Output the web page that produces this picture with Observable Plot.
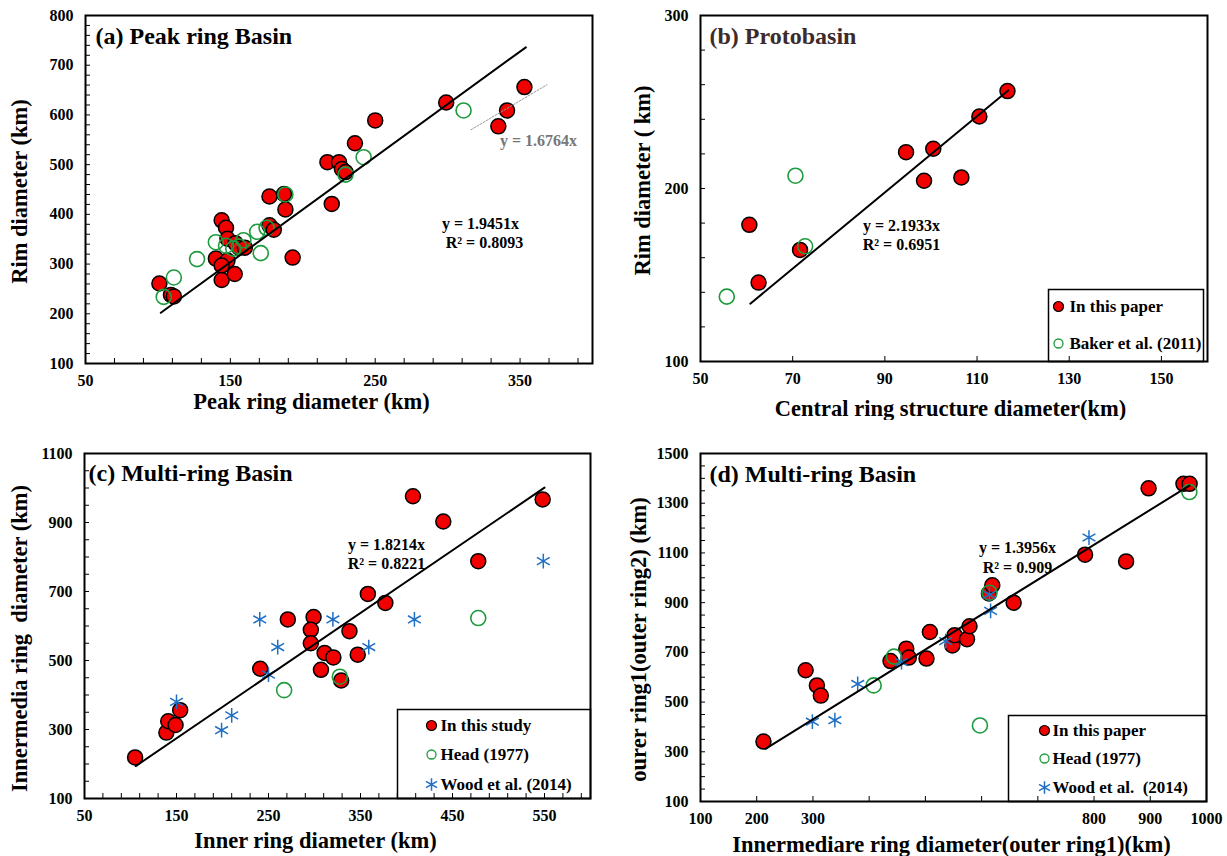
<!DOCTYPE html>
<html><head><meta charset="utf-8">
<script src="https://cdn.jsdelivr.net/npm/d3@7"></script>
<script src="https://cdn.jsdelivr.net/npm/@observablehq/plot@0.6"></script>
<style>
body{margin:0;background:#fff;}
#grid{display:grid;grid-template-columns:600px 627px;grid-template-rows:420px 436px;width:1227px;height:856px;}
#grid svg{display:block;}
</style></head><body><div id="grid"></div>
<script>
// ---------- (a) Peak ring basin ----------
const peakThisPaper = [[101,261],[109,238],[111,235],[144,388],[147,373],[148,351],[153.5,342],[156,333],[160,333],[140,311],[148,307],[144,297],[144,268],[153,280],[177,436],[187,441],[188,410],[177,378],[180,369],[193,313],[217,505],[225,505],[227,491],[229.5,485],[220,421],[236,543],[250,589],[299,625],[335,577],[341,609],[353,656]];
const peakBaker = [[104,234],[111,273],[127,310],[140,344],[147,337],[152,331],[156,335],[159,348],[168.5,365],[171,322],[175,373],[188,440],[229.5,480],[242,515],[311,609]];
const peakTrend = [[102,202],[354,736]];
const peakTrend2 = [[316,570],[368.5,660.5]];
const peakXLabels = [50,150,250,350];
const peakYLabels = [100,200,300,400,500,600,700,800];

// ---------- (b) Protobasin ----------
const protoThisPaper = [[60.6,179],[62.6,145.6],[71.6,164.5],[94.6,221],[100.5,223],[98.5,204.5],[106.6,206.4],[110.5,241.6],[116.6,256.3]];
const protoBaker = [[55.7,137.5],[70.6,207.4],[72.7,166.6]];
const protoTrend = [[60.8,133.4],[116.75,256.7]];
const protoXLabels = [50,70,90,110,130,150];
const protoYLabels = [100,200,300];

// ---------- (c) Multi-ring basin, inner vs intermediate ----------
const innerThisStudy = [[105,219],[139,291],[141,324],[149,313],[154,356],[241,476],[271,619],[299,626],[296,589],[296,550],[311,522],[320.5,509],[307,473],[329,442],[338,585],[347,517],[358,693],[377,667],[407,976],[440,903],[478,788],[548,967]];
const innerHead = [[267,414],[327.5,453],[478,623]];
const innerWood = [[150,380],[199,298],[210,341],[240.5,619],[250,459],[260,539],[320,619],[359,539],[408.6,619],[548.7,788]];
const innerTrend = [[105.7,194],[550,1001]];
const innerXLabels = [50,150,250,350,450,550];
const innerYLabels = [100,300,500,700,900,1100];

// ---------- (d) Multi-ring basin, intermediate vs outer ----------
const outerThisPaper = [[212,341],[287,628],[307,567],[314,526],[438,665],[466,715],[470.5,679],[502,675],[508,782],[548,728],[552,769],[574,753],[578.5,805],[613,937],[619,970],[657,900],[784,1093],[857,1066],[897,1360],[959,1378],[970,1378]];
const outerHead = [[408,567],[444,683],[614,940],[597,406],[969.5,1345]];
const outerWood = [[299,421],[339,427],[379.6,573],[457.5,661],[536,745],[614,932],[616,867],[791,1162]];
const outerTrend = [[215.5,312],[969.5,1371]];
const outerXLabels = [100,200,300,800,900,1000];
const outerYLabels = [100,300,500,700,900,1100,1300,1500];

const FONT = "'Liberation Serif','Times New Roman',serif";
const RED = "#f20000", GREEN = "#1e9b3e", BLUE = "#1f6fc5";

function panel(o) {
  const pw = o.width - o.ml - o.mr, ph = o.height - o.mt - o.mb;
  const TL = {frameAnchor: "top-left"};
  const txt = (s, dx, dy, extra = {}) => Plot.text([s], {...TL, text: d => d, dx, dy, fontSize: 16, fontWeight: "bold", textAnchor: "middle", lineAnchor: "middle", ...extra});
  const marks = [
    Plot.tickX(o.xTicks, {x: d => d, insetTop: ph - 5, stroke: "black", strokeWidth: 1}),
    Plot.tickY(o.yTicks, {y: d => d, insetRight: pw - 5, stroke: "black", strokeWidth: 1}),
    Plot.axisX({ticks: o.xLabels, tickSize: 0, tickPadding: 11, tickFormat: d => String(d), fontSize: 16, fontWeight: "bold", label: null}),
    Plot.axisY({ticks: o.yLabels, tickSize: 0, tickPadding: 12, tickFormat: d => String(d), fontSize: 16, fontWeight: "bold", label: null}),
    Plot.frame({stroke: "black", strokeWidth: 2})
  ];
  if (o.legend) {
    const L = o.legend;
    marks.push(Plot.frame({insetLeft: L.left, insetTop: L.top, insetRight: L.right, insetBottom: 0, stroke: "black", strokeWidth: 1.5}));
    L.items.forEach((it, i) => {
      const dy = L.dy[i];
      if (it.kind === "red") marks.push(Plot.dot([0], {...TL, dx: L.dotX, dy, r: 5, fill: RED, stroke: "black", strokeWidth: 1.2}));
      if (it.kind === "green") marks.push(Plot.dot([0], {...TL, dx: L.dotX, dy, r: 4.5, fill: "none", stroke: GREEN, strokeWidth: 1.3}));
      if (it.kind === "blue") marks.push(Plot.dot([0], {...TL, dx: L.dotX, dy, r: 6, symbol: "asterisk", stroke: BLUE, strokeWidth: 1.5}));
      marks.push(txt(it.label, L.textX, dy, {textAnchor: "start", fontSize: 17}));
    });
  }
  marks.push(Plot.dot(o.red, {x: d => d[0], y: d => d[1], r: 7.5, fill: RED, stroke: "black", strokeWidth: 1.5}));
  if (o.green) marks.push(Plot.dot(o.green, {x: d => d[0], y: d => d[1], r: 7.5, fill: "none", stroke: GREEN, strokeWidth: 1.6}));
  if (o.blue) marks.push(Plot.dot(o.blue, {x: d => d[0], y: d => d[1], r: 7, symbol: "asterisk", stroke: BLUE, strokeWidth: 1.5}));
  marks.push(Plot.line(o.trend, {x: d => d[0], y: d => d[1], stroke: "black", strokeWidth: 2}));
  if (o.trend2) marks.push(Plot.line(o.trend2, {x: d => d[0], y: d => d[1], stroke: "#999", strokeWidth: 1, strokeDasharray: "2,1.5"}));
  marks.push(txt(o.title, o.titlePos[0], o.titlePos[1], {textAnchor: "start", fontSize: 24, fill: o.titleColor || "black"}));
  o.eq.forEach(e => marks.push(txt(e[0], e[1], e[2], {fill: e[3] || "black"})));
  marks.push(txt(o.xTitle, o.xTitlePos[0], o.xTitlePos[1], {fontSize: 22.5}));
  marks.push(txt(o.yTitle, o.yTitlePos[0], o.yTitlePos[1], {fontSize: 22.5, rotate: -90}));
  return Plot.plot({
    width: o.width, height: o.height,
    marginLeft: o.ml, marginRight: o.mr, marginTop: o.mt, marginBottom: o.mb,
    x: {domain: o.xDomain, nice: false},
    y: {domain: o.yDomain, nice: false},
    style: {fontFamily: FONT, fontWeight: "bold", fontSize: "16px", background: "white", color: "black", overflow: "visible"},
    marks
  });
}

const grid = document.getElementById("grid");

grid.appendChild(panel({
  width: 600, height: 420, ml: 85, mr: 8, mt: 15, mb: 57,
  xDomain: [50, 400], yDomain: [100, 800],
  xTicks: d3.range(50, 400, 20), yTicks: d3.range(100, 801, 20),
  xLabels: peakXLabels, yLabels: peakYLabels,
  red: peakThisPaper, green: peakBaker, trend: peakTrend, trend2: peakTrend2,
  title: "(a) Peak ring Basin", titlePos: [10, 21],
  eq: [["y = 1.9451x", 395, 208], ["R² = 0.8093", 399, 227], ["y = 1.6764x", 453, 125, "#777"]],
  xTitle: "Peak ring diameter (km)", xTitlePos: [226, 386],
  yTitle: "Rim diameter (km)", yTitlePos: [-66, 176]
}));

grid.appendChild(panel({
  width: 627, height: 420, ml: 100, mr: 20, mt: 15, mb: 59,
  xDomain: [50, 160], yDomain: [100, 300],
  xTicks: d3.range(50, 161, 20), yTicks: d3.range(100, 301, 20),
  xLabels: protoXLabels, yLabels: protoYLabels,
  red: protoThisPaper, green: protoBaker, trend: protoTrend,
  title: "(b) Protobasin", titlePos: [9, 21], titleColor: "#3d2b2b",
  eq: [["y = 2.1933x", 201, 210], ["R² = 0.6951", 201, 229]],
  xTitle: "Central ring structure diameter(km)", xTitlePos: [250, 393],
  yTitle: "Rim diameter ( km)", yTitlePos: [-58, 165],
  legend: {left: 348, top: 274, right: 4, dotX: 358, textX: 369, dy: [291, 328],
    items: [{kind: "red", label: "In this paper"}, {kind: "green", label: "Baker et al. (2011)"}]}
}));

grid.appendChild(panel({
  width: 600, height: 436, ml: 84, mr: 10, mt: 33, mb: 58,
  xDomain: [50, 600], yDomain: [100, 1100],
  xTicks: d3.range(50, 600, 20), yTicks: d3.range(100, 1101, 50),
  xLabels: innerXLabels, yLabels: innerYLabels,
  red: innerThisStudy, green: innerHead, blue: innerWood, trend: innerTrend,
  title: "(c) Multi-ring Basin", titlePos: [4, 20],
  eq: [["y = 1.8214x", 302, 91], ["R² = 0.8221", 302, 110]],
  xTitle: "Inner ring diameter (km)", xTitlePos: [231, 387],
  yTitle: "Innermedia ring  diameter (km)", yTitlePos: [-65, 185],
  legend: {left: 313, top: 256, right: 0, dotX: 347, textX: 356, dy: [272, 301, 331],
    items: [{kind: "red", label: "In this study"}, {kind: "green", label: "Head (1977)"}, {kind: "blue", label: "Wood et al. (2014)"}]}
}));

grid.appendChild(panel({
  width: 627, height: 436, ml: 100, mr: 21, mt: 33, mb: 55,
  xDomain: [100, 1000], yDomain: [100, 1500],
  xTicks: d3.range(100, 1001, 100), yTicks: d3.range(100, 1501, 50),
  xLabels: outerXLabels, yLabels: outerYLabels,
  red: outerThisPaper, green: outerHead, blue: outerWood, trend: outerTrend,
  title: "(d) Multi-ring Basin", titlePos: [9, 21],
  eq: [["y = 1.3956x", 317, 94], ["R² = 0.909", 317, 114]],
  xTitle: "Innermediare ring diameter(outer ring1)(km)", xTitlePos: [251, 391],
  yTitle: "ourer ring1(outer ring2) (km)", yTitlePos: [-62, 186],
  legend: {left: 308, top: 262, right: 0, dotX: 344, textX: 352, dy: [277, 305, 334],
    items: [{kind: "red", label: "In this paper"}, {kind: "green", label: "Head (1977)"}, {kind: "blue", label: "Wood et al.  (2014)"}]}
}));
</script></body></html>
